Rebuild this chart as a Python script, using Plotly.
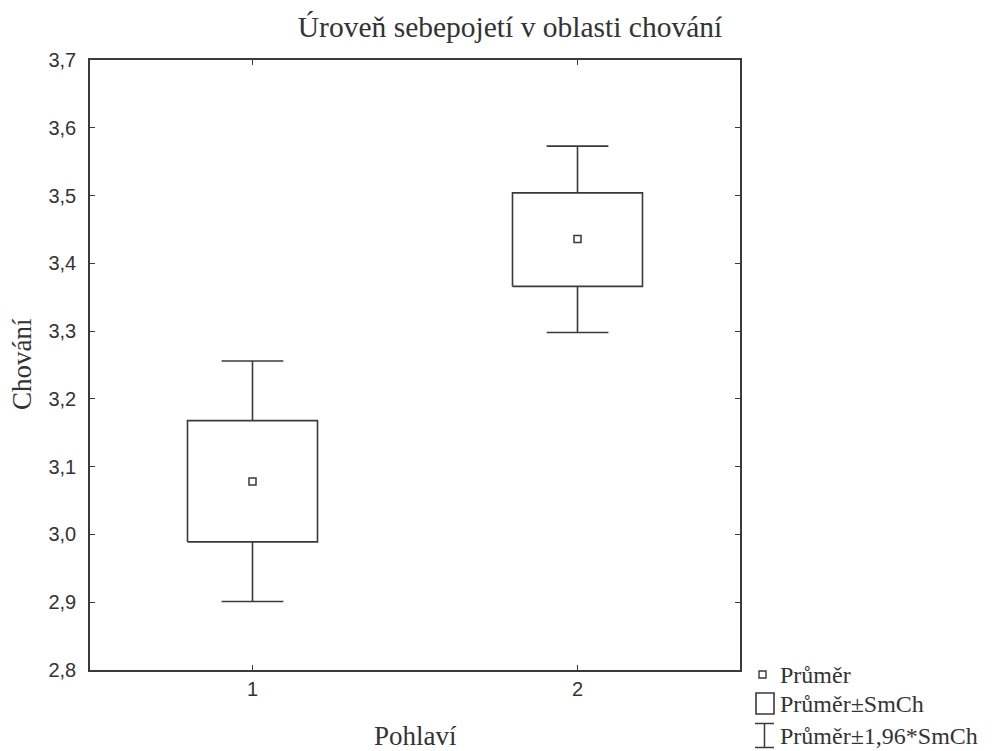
import plotly.graph_objects as go

# ---- data ----
groups = [1, 2]
means = [3.078, 3.436]
se_low = [2.989, 3.366]
se_high = [3.168, 3.504]
ci_low = [2.901, 3.298]
ci_high = [3.256, 3.573]
y_ticks = [2.8, 2.9, 3.0, 3.1, 3.2, 3.3, 3.4, 3.5, 3.6, 3.7]

title_text = "Úroveň sebepojetí v oblasti chování"
x_title = "Pohlaví"
y_title = "Chování"
legend_labels = ["Průměr", "Průměr±SmCh", "Průměr±1,96*SmCh"]

LINE = "#3a3a3a"
TEXT = "#333333"
SERIF = "Liberation Serif, Times New Roman, serif"
SANS = "Liberation Sans, Arial, sans-serif"

W, H = 992, 751
L, R, T, B = 90, 740, 60, 670  # plot area pixels

box_half = 0.2
cap_half = 0.095

fig = go.Figure()

for g, m, lo, hi, cl, ch in zip(groups, means, se_low, se_high, ci_low, ci_high):
    # box (mean ± SE)
    fig.add_trace(go.Scatter(
        x=[g - box_half, g + box_half, g + box_half, g - box_half, g - box_half],
        y=[lo, lo, hi, hi, lo], mode="lines",
        line=dict(color=LINE, width=1.6), showlegend=False, hoverinfo="skip"))
    # whiskers (mean ± 1.96 SE)
    fig.add_trace(go.Scatter(
        x=[g, g, None, g - cap_half, g + cap_half, None, g, g, None, g - cap_half, g + cap_half],
        y=[hi, ch, None, ch, ch, None, lo, cl, None, cl, cl], mode="lines",
        line=dict(color=LINE, width=1.6), showlegend=False, hoverinfo="skip"))

fig.add_trace(go.Scatter(
    x=groups, y=means, mode="markers",
    marker=dict(symbol="square-open", size=7, color=LINE, line=dict(width=1.5)),
    showlegend=False, hoverinfo="skip"))

def px(xp):
    return (xp - L) / (R - L)

def py(yp):
    return (B - yp) / (B - T)

# legend glyphs
shapes = []
shapes.append(dict(type="rect", xref="paper", yref="paper",
                   x0=px(759), x1=px(766), y0=py(678), y1=py(671),
                   line=dict(color=LINE, width=1.4), fillcolor="white"))
shapes.append(dict(type="rect", xref="paper", yref="paper",
                   x0=px(756), x1=px(774), y0=py(714), y1=py(693),
                   line=dict(color=LINE, width=1.6), fillcolor="white"))
shapes.append(dict(type="line", xref="paper", yref="paper",
                   x0=px(755), x1=px(774), y0=py(723.5), y1=py(723.5),
                   line=dict(color=LINE, width=1.5)))
shapes.append(dict(type="line", xref="paper", yref="paper",
                   x0=px(755), x1=px(774), y0=py(747.5), y1=py(747.5),
                   line=dict(color=LINE, width=1.5)))
shapes.append(dict(type="line", xref="paper", yref="paper",
                   x0=px(764.5), x1=px(764.5), y0=py(723.5), y1=py(747.5),
                   line=dict(color=LINE, width=1.5)))

annotations = []
for lab, yc in zip(legend_labels, [674.5, 704, 736]):
    annotations.append(dict(text=lab, xref="paper", yref="paper",
                            x=px(778), y=py(yc), xanchor="left", yanchor="middle",
                            showarrow=False, font=dict(family=SERIF, size=24, color=TEXT)))
annotations.append(dict(text=x_title, xref="paper", yref="paper",
                        x=px(415), y=py(736), xanchor="center", yanchor="middle",
                        showarrow=False, font=dict(family=SERIF, size=27, color=TEXT)))
annotations.append(dict(text=y_title, xref="paper", yref="paper",
                        x=px(22), y=py(364), xanchor="center", yanchor="middle", textangle=-90,
                        showarrow=False, font=dict(family=SERIF, size=27, color=TEXT)))

fig.update_layout(
    width=W, height=H,
    margin=dict(l=L, r=W - R, t=T, b=H - B, pad=0),
    paper_bgcolor="white", plot_bgcolor="white",
    separators=", ",
    title=dict(text=title_text, x=510 / W, xanchor="center", xref="container",
               y=1 - 27 / H, yanchor="middle", yref="container",
               font=dict(family=SERIF, size=29.5, color=TEXT)),
    shapes=shapes, annotations=annotations,
    showlegend=False,
)
fig.update_xaxes(range=[0.5, 2.5], tickvals=groups, ticktext=[str(g) for g in groups],
                 showgrid=False, zeroline=False, showline=True, linecolor=LINE, linewidth=1.6,
                 mirror="ticks", ticks="inside", ticklen=5, tickcolor=LINE, tickwidth=1.3,
                 tickfont=dict(family=SANS, size=20, color=TEXT))
fig.update_yaxes(range=[2.8, 3.7], tickvals=y_ticks, tickformat=".1f",
                 showgrid=False, zeroline=False, showline=True, linecolor=LINE, linewidth=1.6,
                 mirror="ticks", ticks="inside", ticklen=5, tickcolor=LINE, tickwidth=1.3,
                 ticklabelstandoff=8,
                 tickfont=dict(family=SANS, size=20, color=TEXT))

fig.write_html("out.html", config={"displayModeBar": False},
               post_script="document.body.style.margin='0';document.body.style.overflow='hidden';")
